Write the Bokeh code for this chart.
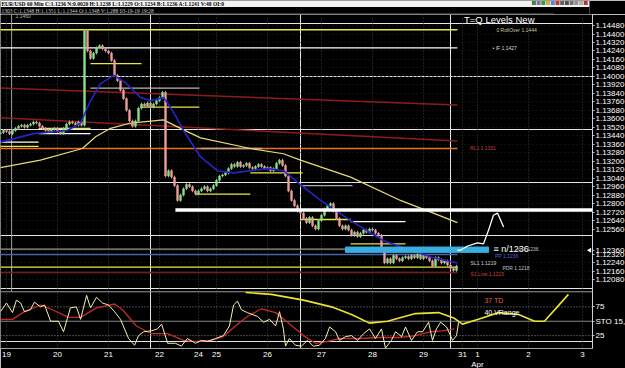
from bokeh.plotting import figure
from bokeh.models import Range1d, LinearAxis, FixedTicker, NumeralTickFormatter, Label, Grid
from bokeh.layouts import column
from bokeh.embed import file_html
from bokeh.resources import INLINE

# ---------------- data ----------------
closes = [1.1347, 1.1349, 1.1348, 1.1346, 1.1349, 1.1351, 1.1353, 1.1354, 1.1352, 1.1354,
          1.1355, 1.1357, 1.1356, 1.1353, 1.1351, 1.1349, 1.1348, 1.1350, 1.1351, 1.1348,
          1.1346, 1.1351, 1.1355, 1.1357, 1.1356, 1.1354, 1.1357, 1.1354, 1.1443, 1.1424,
          1.1417, 1.1422, 1.1427, 1.1429, 1.1426, 1.1424, 1.1422, 1.1415, 1.1401, 1.1396,
          1.1387, 1.1379, 1.1368, 1.1358, 1.1353, 1.1358, 1.1370, 1.1374, 1.1372, 1.1375,
          1.1371, 1.1374, 1.1377, 1.1380, 1.1385, 1.1306, 1.1311, 1.1305, 1.1297, 1.1283,
          1.1288, 1.1294, 1.1298, 1.1296, 1.1292, 1.1289, 1.1292, 1.1294, 1.1296, 1.1292,
          1.1294, 1.1297, 1.1302, 1.1306, 1.1307, 1.1309, 1.1313, 1.1317, 1.1315, 1.1319,
          1.1315, 1.1316, 1.1318, 1.1314, 1.1313, 1.1315, 1.1317, 1.1315, 1.1313, 1.1314,
          1.1311, 1.1313, 1.1318, 1.1321, 1.1316, 1.1306, 1.1292, 1.1283, 1.1278, 1.1273,
          1.1271, 1.1266, 1.1262, 1.1267, 1.1259, 1.1256, 1.1264, 1.1269, 1.1275, 1.1278,
          1.1280, 1.1273, 1.1266, 1.1259, 1.1256, 1.1259, 1.1255, 1.1250, 1.1253, 1.1249,
          1.1252, 1.1255, 1.1253, 1.1256, 1.1255, 1.1252, 1.1250, 1.1236, 1.1224, 1.1228,
          1.1224, 1.1231, 1.1228, 1.1226, 1.1229, 1.1230, 1.1228, 1.1231, 1.1229, 1.1232,
          1.1228, 1.1231, 1.1229, 1.1226, 1.1221, 1.1229, 1.1227, 1.1224, 1.1226, 1.1222,
          1.1219, 1.1217, 1.1221]
first_open = 1.1346

ma_fast_x = [0, 11, 22.3, 26.7, 30, 33.3, 37.7, 41.7, 46.7, 50, 54.3, 55.7, 58.3, 61, 66.7,
             72.3, 77.7, 83.3, 89, 94.3, 100, 106.7, 116.7, 127.7, 136.7, 144.3, 152.3]
ma_fast_y = [1.1338, 1.1346, 1.1349, 1.1356, 1.1377, 1.1393, 1.1401, 1.1394, 1.1380, 1.1377,
             1.1380, 1.1375, 1.1363, 1.1349, 1.1324, 1.1311, 1.1309, 1.1311, 1.1313, 1.1311,
             1.1298, 1.1283, 1.1264, 1.1245, 1.1236, 1.1229, 1.1224]
ma_slow_x = [0, 13.3, 27.3, 31.7, 36.7, 43.3, 54.3, 60, 66.7, 83.3, 94.3, 100, 116.7, 133.3, 144.3, 152.3]
ma_slow_y = [1.1314, 1.1321, 1.1332, 1.1343, 1.1351, 1.1356, 1.1359, 1.1351, 1.1342, 1.1332,
             1.1327, 1.1321, 1.1305, 1.1283, 1.1271, 1.1262]

proj_x = [152.3, 153.3, 155.7, 159, 161, 162.7, 164.3, 165.7, 167.7]
proj_y = [1.1236, 1.1236, 1.1240, 1.1243, 1.1242, 1.1255, 1.1269, 1.1271, 1.1258]

# horizontal levels: price, start bar, end bar
lvl_price = [1.1444, 1.1427, 1.1332, 1.1237, 1.1232, 1.1220, 1.1215,
             1.1412, 1.1389, 1.1371, 1.1338, 1.1334, 1.1351, 1.1346, 1.1289,
             1.1309, 1.1297, 1.1265, 1.1263, 1.1242, 1.1332]
lvl_x0 = [0, 0, 0, 0, 0, 0, 0, 30, 30, 46.7, 0, 0, 12.7, 12.7, 65, 83.3, 100.7, 100, 116.7, 116.7, 66.7]
lvl_x1 = [152.3, 152.3, 152.3, 115, 152.3, 152.3, 152.3, 47, 66.3, 66.3, 12.7, 12.7, 30, 30, 83.3,
          100.7, 117.3, 116.7, 135, 135, 87.3]
lvl_color = ["#e8e840", "#ffffff", "#e87020", "#9a9a9a", "#4a64a8", "#e8e840", "#7a1c1c",
             "#e8e840", "#b8b8b8", "#e8e840", "#ffffff", "#e8e840", "#e8e840", "#ffffff", "#e8e840",
             "#e8e840", "#a8a8a8", "#e8e840", "#ffffff", "#e8e840", "#c8a090"]

trend_x = [[0, 152.3], [0, 152.3]]
trend_y = [[1.1389, 1.1373], [1.1361, 1.1339]]

key_level = 1.1274
key_x = [58.3, 197.3]
band_left, band_right, band_top, band_bottom = 115, 162.7, 1.1239, 1.1234
last_price = 1.1236

sto_k_x = [0, 2, 4, 5.3, 6.7, 8, 10, 11.3, 13.3, 14.7, 16.7, 19.3, 21, 23.3, 25.3, 26.7, 28.7, 30, 32, 34,
           36, 38, 40, 42.7, 44.7, 46, 47.7, 50.3, 52.3, 53.7, 55.7, 58.3, 60.3, 62.3, 65, 67, 69, 71.7,
           74.3, 76.3, 77.7, 79, 80.3, 82.3, 85.7, 87.7, 89.7, 91.7, 93, 94.3, 95, 96.3, 98.3, 100.3,
           102.3, 104.3, 106.3, 108.3, 109.7, 111.7, 113, 115, 117, 119, 121, 123, 125, 127, 128.3,
           130.3, 131.7, 133.7, 135, 137, 139, 140.7, 142.7, 144, 145.3, 146.7, 148.7, 150.7, 152, 152.7]
sto_k_y = [66.7, 81.7, 65, 86.7, 81.7, 66.7, 70, 83.3, 75, 78.3, 50, 50, 31.7, 73.3, 75, 53.3, 95, 73.3,
           91.7, 81.7, 78.3, 66.7, 53.3, 20, 8.3, 25, 31.7, 33.3, 36.7, 45, 11.7, 11.7, 6.7, 20, 11.7,
           16.7, 15, 20, 25, 41.7, 78.3, 85, 70, 65, 58.3, 48.3, 53.3, 41.7, 66.7, 36.7, 6.7, 20, 8.3,
           6.7, 16.7, 6.7, 8.3, 20, 40, 31.7, 16.7, 23.3, 25, 16.7, 28.3, 36.7, 20, 36.7, 3.3, 16.7,
           31.7, 23.3, 40, 16.7, 31.7, 31.7, 48.3, 16.7, 36.7, 48.3, 40, 16.7, 25, 48.3]
sto_d_x = [0, 4, 8, 13.3, 17.3, 22.7, 26.7, 32, 38, 40.7, 45.3, 50.3, 55.7, 61, 65, 70.3, 74.3, 78.3,
           82.3, 87, 91.7, 95.7, 101, 105, 109, 113, 119.7, 126.3, 133, 138.3, 143.3, 147.3, 151.3]
sto_d_y = [53.3, 53.3, 66.7, 78.3, 70, 56.7, 56.7, 73.3, 80, 70, 41.7, 28.3, 28.3, 16.7, 15, 16.7,
           23.3, 41.7, 58.3, 71.7, 65, 48.3, 25, 11.7, 15, 20, 20, 21.7, 21.7, 25, 31.7, 33.3, 36.7]
sto_p_x = [81.7, 90.3, 101, 110.3, 117, 123, 129, 138.3, 146, 151.3, 154, 159.3, 166, 172.7, 178,
           181.3, 185.3, 189.3]
sto_p_y = [100, 96.7, 86.7, 75, 61.7, 46.7, 50, 63.3, 65, 55, 45, 53.3, 65, 61.7, 50, 50, 73.3, 96.7]
sto_levels = [75, 50, 25]
sto_level_labels = ["75", "STO 15,", "25"]

price_ticks = [round(1.1208 + 0.0008 * i, 4) for i in range(31) if i not in (4, 5)] + [1.1236]
day_ticks = [2, 19, 36, 53, 66, 72, 89, 107, 124, 141, 154, 159, 176, 194]
day_labels = ["19", "20", "21", "22", "24", "25", "26", "27", "28", "29", "31", "1\nApr", "2", "3"]

header1 = "EUR/USD 60 Min C:1.1236 N:0.0020 H:1.1238 L:1.1229 O:1.1234 B:1.1236 A:1.1241 V:48 OI:0"
header2 = "1303 C:1.1348 H:1.1351 L:1.1344 O:1.1348 V:1,288 03-19-19 19:28"

FONT = "Liberation Sans"

# ---------------- header strip ----------------
hdr = figure(width=625, height=14, x_range=Range1d(0, 625), y_range=Range1d(14, 0),
             toolbar_location=None, output_backend="svg", x_axis_location=None,
             y_axis_location=None, min_border=0)
hdr.grid.visible = False
hdr.outline_line_color = None
hdr.background_fill_color = "black"
hdr.border_fill_color = "black"
hdr.quad(left=[0], right=[625], top=[0], bottom=[6.5], fill_color="#f2f2f2", line_color=None)
hdr.text(x=[1], y=[3.4], text=[header1], text_font_size="5.5px", text_font_style="bold",
         text_baseline="middle", text_color="#000000", text_font=FONT)
hdr.text(x=[1], y=[10.4], text=[header2], text_font_size="5.5px",
         text_baseline="middle", text_color="#c8c8c8", text_font=FONT)
icon_colors = ["#3a8a3a", "#8a6ab0", "#2f9f2f", "#d0b040", "#4a8ad0", "#d03030", "#606060",
               "#505050", "#707070", "#909090", "#b0b0b0", "#c03030"]
hdr.scatter(x=[566 + 5 * i for i in range(len(icon_colors))], y=[2.5] * len(icon_colors),
            marker="square", size=4, fill_color=icon_colors, line_color=None)
hdr.segment(x0=[0], y0=[13.5], x1=[587], y1=[13.5], line_color="#707070", line_width=1)

# ---------------- main figure ----------------
P_TOP, P_BOT = 1.14584, 1.11433          # frame spans page y 14 .. 348
S_LO, S_HI = 2.6, 583.5                  # stochastic panel: 100 at y 292, 0 at y 349.5
p = figure(frame_width=592, frame_height=334, x_range=Range1d(0, 197.33),
           y_range=Range1d(P_BOT, P_TOP), toolbar_location=None, output_backend="svg",
           x_axis_location=None, y_axis_location=None,
           min_border_left=0, min_border_top=0, min_border_right=33, min_border_bottom=20)
p.extra_y_ranges = {"sto": Range1d(S_LO, S_HI)}
p.background_fill_color = "#000000"
p.border_fill_color = "#000000"
p.outline_line_color = None


def sto_on_price(s):
    return round(P_BOT + (s - S_LO) / (S_HI - S_LO) * (P_TOP - P_BOT), 6)


axis_ticks = price_ticks + [sto_on_price(s) for s in sto_levels]
overrides = {sto_on_price(s): t for s, t in zip(sto_levels, sto_level_labels)}

price_ticker = FixedTicker(ticks=price_ticks)
day_ticker = FixedTicker(ticks=day_ticks)

yax = LinearAxis(ticker=FixedTicker(ticks=axis_ticks), formatter=NumeralTickFormatter(format="0.00000"),
                 major_label_overrides=overrides)
yax.major_label_text_color = "#ffffff"
yax.major_label_text_font = FONT
yax.major_label_text_font_size = "8px"
yax.major_label_standoff = 1
yax.major_tick_out = 2
yax.major_tick_in = 0
yax.minor_tick_out = 0
yax.minor_tick_in = 0
yax.major_tick_line_color = "#c0c0c0"
yax.axis_line_color = "#d0d0d0"
p.add_layout(yax, "right")

xax = LinearAxis(ticker=day_ticker,
                 major_label_overrides={t: s for t, s in zip(day_ticks, day_labels)})
xax.major_label_text_color = "#ffffff"
xax.major_label_text_font = FONT
xax.major_label_text_font_size = "8px"
xax.major_label_standoff = 1
xax.major_tick_out = 0
xax.major_tick_in = 0
xax.minor_tick_out = 0
xax.minor_tick_in = 0
xax.axis_line_color = "#a0a0a0"
p.add_layout(xax, "below")

p.add_layout(Grid(dimension=0, ticker=day_ticker, grid_line_color="#3c3c3c",
                  grid_line_dash="1 2", grid_line_width=1))
p.add_layout(Grid(dimension=1, ticker=price_ticker, grid_line_color="#1e1e1e",
                  grid_line_dash="1 3", grid_line_width=1))

# vertical session marker
p.segment(x0=[3.7], y0=[1.1197], x1=[3.7], y1=[P_TOP], line_color="#a0a0a0", line_width=1)

# level lines
for pr, a, b, c in zip(lvl_price, lvl_x0, lvl_x1, lvl_color):
    p.segment(x0=[a], y0=[pr], x1=[b], y1=[pr], line_color=c, line_width=1.3)
for tx, ty in zip(trend_x, trend_y):
    p.line(tx, ty, line_color="#8e1c1c", line_width=1.6)

# moving averages
p.line(ma_slow_x, ma_slow_y, line_color="#e6dc70", line_width=1.2)

# candles
opens = [first_open] + closes[:-1]
xs = list(range(len(closes)))
tops = [max(o, c) for o, c in zip(opens, closes)]
bots = [min(o, c) for o, c in zip(opens, closes)]
tops = [t if t - b > 0.00004 else b + 0.00004 for t, b in zip(tops, bots)]
cols = ["#86e486" if c >= o else "#ef9c9c" for o, c in zip(opens, closes)]
p.segment(x0=xs, y0=[b - 0.00013 for b in bots], x1=xs, y1=[t + 0.00013 for t in tops],
          line_color="#9a9a9a", line_width=1)
p.vbar(x=xs, width=0.62, top=tops, bottom=bots, fill_color=cols, line_color=cols, line_width=0.5)

p.line(ma_fast_x, ma_fast_y, line_color="#2424c8", line_width=1.6)

# key level, band, projection
p.segment(x0=[key_x[0]], y0=[key_level], x1=[key_x[1]], y1=[key_level], line_color="#ffffff", line_width=3.5)
p.quad(left=[band_left], right=[band_right], top=[band_top], bottom=[band_bottom],
       fill_color="#3aaee0", line_color="#3aaee0")
p.line(proj_x, proj_y, line_color="#ffffff", line_width=1.3)
# last-price marker arrow at the right edge
p.scatter(x=[196.4], y=[last_price], marker="triangle", angle=1.5708, size=5,
          fill_color="#ffffff", line_color=None)

# separator between panels
p.segment(x0=[0], y0=[1.11968], x1=[197.33], y1=[1.11968], line_color="#9a9a9a", line_width=1)

# stochastic panel
for lv in sto_levels:
    p.segment(x0=[0], y0=[lv], x1=[197.33], y1=[lv], y_range_name="sto",
              line_color="#8a8a8a", line_dash=("solid" if lv == 50 else "1 2"), line_width=1)
p.line(sto_d_x, sto_d_y, y_range_name="sto", line_color="#c42a2a", line_width=1.3)
p.line(sto_k_x, sto_k_y, y_range_name="sto", line_color="#f4f0b4", line_width=1)
p.line(sto_p_x, sto_p_y, y_range_name="sto", line_color="#ece234", line_width=1.6)


# ---------------- texts ----------------
def lab(x, y, text, color="#ffffff", size="5px", rng="default"):
    kw = dict(x=x, y=y, text=text, text_color=color, text_font_size=size, text_font=FONT,
              text_baseline="middle")
    if rng != "default":
        kw["y_range_name"] = rng
    p.add_layout(Label(**kw))


lab(154.5, 1.14537, "T=Q Levels New", size="9.5px")
lab(165.3, 1.1444, "0 RollOver 1.1444", color="#c8c8a0")
lab(164.0, 1.1427, "\u2022  IF 1.1427", color="#d8d8d8")
lab(156.5, 1.1332, "RL1 1.1331", color="#c04040")
lab(5.0, 1.1457, "1.1460", color="#b0b0b0", size="5px")
lab(164.3, 1.1237, "\u2261 n/1236", color="#ffffff", size="9px")
lab(172.3, 1.1237, "nr 1.1236", color="#c0c0c0")
lab(164.8, 1.1231, "PP 1.1236", color="#4a64d0")
lab(156.7, 1.1224, "SL1 1.1219", color="#d0d0d0")
lab(156.7, 1.1214, "S1 Low 1.1215", color="#d04040")
lab(167.3, 1.1219, "PDR 1.1218", color="#c0c0c0")

lab(161.3, 86, "37 TD", color="#e0603a", size="7px", rng="sto")
lab(161.3, 66, "40 VRange", color="#ffffff", size="7px", rng="sto")

layout = column(hdr, p, spacing=0)
open("out.html", "w").write(file_html(layout, INLINE))
